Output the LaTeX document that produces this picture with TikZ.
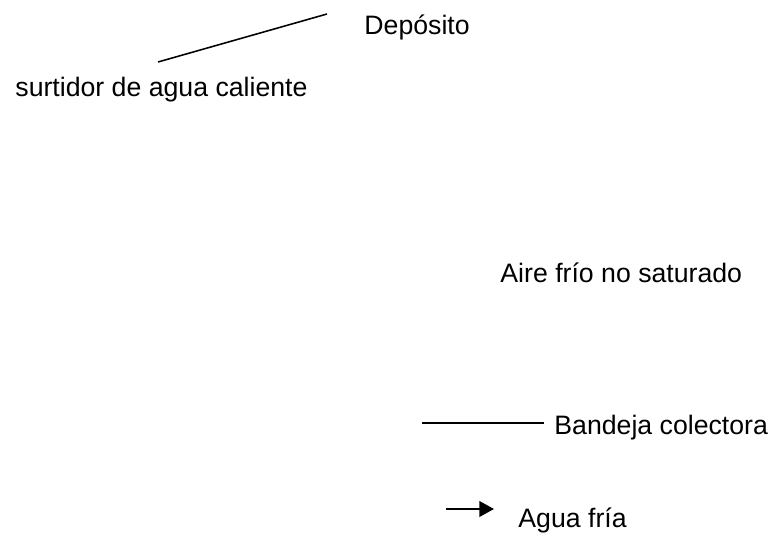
\documentclass[tikz,border=0pt]{standalone}
\usepackage{fontspec}
\setmainfont{Liberation Sans}
\usetikzlibrary{arrows.meta, positioning}

\begin{document}
\begin{tikzpicture}[x=0.45pt,y=-0.45pt]
    \tikzset{>={Triangle[length=6.6pt,width=7pt]}}
    \tikzset{lbl/.style={anchor=base west,inner sep=0,font=\fontsize{12}{14}\selectfont}}
    \useasboundingbox (0,0) rectangle (776,534);

    \coordinate (D1) at (158,62);
    \coordinate (D2) at (327,14);
    \coordinate (B1) at (422,423);
    \coordinate (B2) at (544,423);
    \coordinate (A1) at (446,509);
    \coordinate (A2) at (494,509);
    \node[lbl] (dep) at (364,35) {Depósito};
    \node[lbl] (surt) at (15,97) {surtidor de agua caliente};
    \node[lbl] (aire) at (500,282) {Aire frío no saturado};
    \node[lbl] (band) at (554,434) {Bandeja colectora};
    \node[lbl] (agua) at (518,527) {Agua fría};
    \draw[line width=0.7] (D1) -- (D2);
    \draw[line width=0.6] (B1) -- (B2);
    \draw[->,line width=1.0] (A1) -- (A2);
  \end{tikzpicture}
\end{document}
